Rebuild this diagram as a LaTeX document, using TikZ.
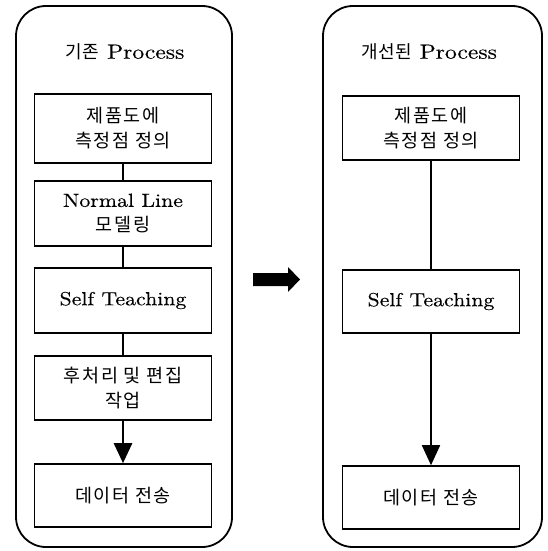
\documentclass[tikz,border=0pt]{standalone}
\usepackage{fontspec}
\setmainfont{lmroman10-regular.otf}[FakeStretch=1.15,FakeBold=0.25]
\newfontfamily\kr[LetterSpace=9]{Noto Sans CJK KR}
\newfontfamily\krt[LetterSpace=3]{Noto Sans CJK KR}
\usetikzlibrary{arrows.meta}
\newcommand{\kt}[1]{{\kr\fontsize{18.5}{25}\selectfont #1}}
\begin{document}
\begin{tikzpicture}[x=1pt,y=-1pt,
  outer/.style={draw,line width=1.8pt,rounded corners=30pt},
  stepbox/.style={draw,line width=1.6pt,minimum width=177pt,inner sep=0pt,align=center,font=\fontsize{19}{25}\selectfont},
  title/.style={font=\fontsize{20.5}{26}\selectfont,inner sep=0pt},
  link/.style={line width=1.8pt},
  bigarrow/.style={line width=2.6pt,-{Triangle[width=18pt,length=20pt]}}]
\useasboundingbox (0,0) rectangle (548,551);
% outer frames
\draw[outer] (16,6) rectangle (232,547);
\draw[outer] (323,6) rectangle (542,547);
% titles
\node[title] (t1) at (125,52) {{\krt\fontsize{18}{22}\selectfont 기존} Process};
\node[title] (t2) at (429,52) {{\krt\fontsize{18}{22}\selectfont 개선된} Process};
% left column
\node[stepbox,minimum height=69pt] (l1) at (123,128.5) {\kt{제품도에}\\\kt{측정점 정의}};
\node[stepbox,minimum height=65pt] (l2) at (123,213.5) {Normal Line\\\kt{모델링}};
\node[stepbox,minimum height=65pt] (l3) at (123,300.5) {Self Teaching};
\node[stepbox,minimum height=64pt] (l4) at (123,388) {\kt{후처리 및 편집}\\\kt{작업}};
\node[stepbox,minimum height=63pt] (l5) at (123,495.5) {\kt{데이터 전송}};
\draw[link] (l1) -- (l2);
\draw[link] (l2) -- (l3);
\draw[link] (l3) -- (l4);
\draw[bigarrow] (l4) -- (l5);
% right column
\node[stepbox,minimum height=64pt] (r1) at (431,128) {\kt{제품도에}\\\kt{측정점 정의}};
\node[stepbox,minimum height=63pt] (r2) at (431,301.5) {Self Teaching};
\node[stepbox,minimum height=63pt] (r3) at (431,497.5) {\kt{데이터 전송}};
\draw[link] (r1) -- (r2);
\draw[link,-{Triangle[width=18pt,length=20pt]}] (r2) -- (r3);
% middle block arrow
\fill (253,273) -- (288,273) -- (288,267) -- (300,279.5) -- (288,292) -- (288,286) -- (253,286) -- cycle;
\end{tikzpicture}
\end{document}
